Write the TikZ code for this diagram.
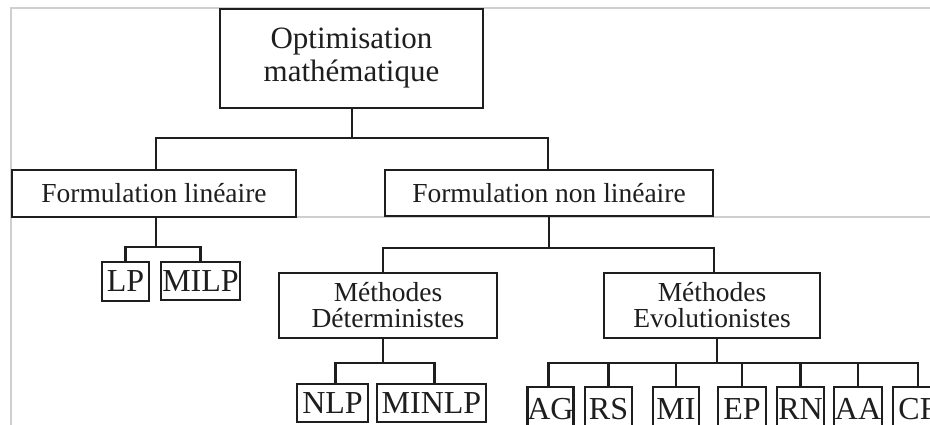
\documentclass[tikz,border=0pt]{standalone}
\usepackage{fontspec}
\setmainfont{Liberation Serif}
\definecolor{ink}{HTML}{1E1E1E}
\definecolor{frame}{HTML}{CFCFCF}
\tikzset{
  box/.style={draw=ink, line width=2.6pt, text=ink, inner sep=0pt, align=center, rectangle},
  conn/.style={draw=ink, line width=2.6pt},
  edgeline/.style={draw=frame, line width=1.3pt},
  bigf/.style={font=\fontsize{31}{33}\selectfont},
  midf/.style={font=\fontsize{27.5}{26}\selectfont},
  leaff/.style={font=\fontsize{32}{32}\selectfont},
}
\begin{document}
\begin{tikzpicture}[x=1pt,y=-1pt]
\useasboundingbox (0,0) rectangle (930,425);
\clip (0,0) rectangle (930,425);
\fill[white] (0,0) rectangle (930,425);
% screenshot frame lines
\coordinate (f1) at (11,8);
\coordinate (f2) at (930,8);
\coordinate (f3) at (11,425);
\coordinate (f4) at (11,217);
\coordinate (f5) at (930,217);
\draw[edgeline] (f3) -- (f1) -- (f2);
\draw[edgeline] (f4) -- (f5);
% nodes
\node[box,bigf,minimum width=263, minimum height=99] (top) at (351.5,58.5) {Optimisation\\math\'ematique};
\node[box,midf,minimum width=284, minimum height=47] (fl) at (154,193.5) {Formulation lin\'eaire};
\node[box,midf,minimum width=328, minimum height=46] (fnl) at (549,193) {Formulation non lin\'eaire};
\node[box,leaff,minimum width=47, minimum height=39] (lp) at (125.5,281.5) {LP};
\node[box,leaff,minimum width=79, minimum height=38] (milp) at (200.5,281) {MILP};
\node[box,midf,minimum width=218, minimum height=65] (md) at (388,305.5) {M\'ethodes\\D\'eterministes};
\node[box,midf,minimum width=216, minimum height=65] (me) at (712,305.5) {M\'ethodes\\Evolutionistes};
\node[box,leaff,minimum width=71, minimum height=38] (nlp) at (332.5,403) {NLP};
\node[box,leaff,minimum width=109, minimum height=38] (minlp) at (431.5,403) {MINLP};
\node[box,leaff,minimum width=45, minimum height=44] (ag) at (550.5,409) {AG};
\node[box,leaff,minimum width=47, minimum height=44] (rs) at (608.5,409) {RS};
\node[box,leaff,minimum width=46, minimum height=44] (mi) at (676,409) {MI};
\node[box,leaff,minimum width=48, minimum height=44] (ep) at (742,409) {EP};
\node[box,leaff,minimum width=47, minimum height=44] (rn) at (800.5,409) {RN};
\node[box,leaff,minimum width=48, minimum height=44] (aa) at (858,409) {AA};
\node[box,leaff,minimum width=50, minimum height=44] (cf) at (918,409) {CF};
% buses
\coordinate (b1) at (352,138);
\coordinate (b2) at (549,248);
\coordinate (b3) at (156,247);
\coordinate (b4) at (383,363);
\coordinate (b5) at (717,363);
\draw[conn] (top.south -| b1) -- (b1);
\draw[conn] (b1) -| ([xshift=2pt]fl.north);
\draw[conn] (b1) -| ([xshift=-1pt]fnl.north);
\draw[conn] (fl.south -| b3) -- (b3);
\draw[conn] (b3) -| (lp.north);
\draw[conn] (b3) -| (milp.north);
\draw[conn] (fnl.south) -- (b2);
\draw[conn] (b2) -| ([xshift=-5pt]md.north);
\draw[conn] (b2) -| ([xshift=2pt]me.north);
\draw[conn] (md.south -| b4) -- (b4);
\draw[conn] (b4) -| ([xshift=3pt]nlp.north);
\draw[conn] (b4) -| ([xshift=3pt]minlp.north);
\draw[conn] (me.south -| b5) -- (b5);
\draw[conn] (b5) -| ([xshift=-2pt]ag.north);
\draw[conn] (b5) -| (rs.north);
\draw[conn] (b5) -| (mi.north);
\draw[conn] (b5) -| (ep.north);
\draw[conn] (b5) -| (rn.north);
\draw[conn] (b5) -| (aa.north);
\draw[conn] (b5) -| (cf.north);
\end{tikzpicture}
\end{document}
